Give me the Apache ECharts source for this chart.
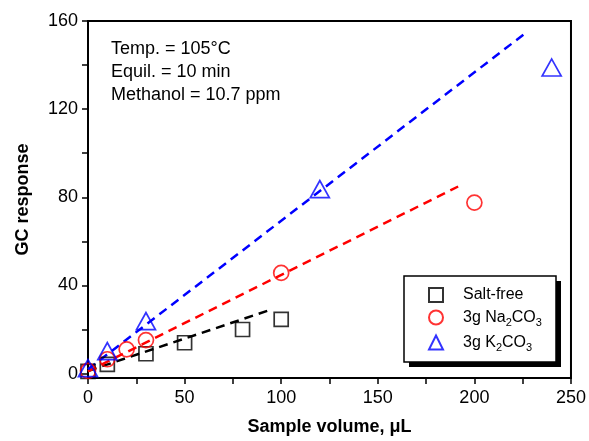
<!DOCTYPE html>
<html>
<head>
<meta charset="utf-8">
<script src="https://cdn.jsdelivr.net/npm/echarts@6/dist/echarts.min.js"></script>
<style>
  html, body { margin: 0; padding: 0; background: #fff; }
  #chart { width: 589px; height: 441px; }
</style>
</head>
<body>
<div id="chart"></div>
<script>
// data
const saltFree = [[0, 1], [10, 4.2], [30, 9], [50, 14], [80, 20], [100, 24.6]];
const na2co3 = [[0, 1.2], [10, 6.5], [20, 11], [30, 15.2], [100, 45.7], [200, 77.6]];
const k2co3 = [[0, 2.5], [10, 10.2], [30, 23.8], [120, 83.7], [240, 138.9]];

// dashed fit lines (end points)
const fitSaltFree = [[0, 1.2], [95, 29.1]];
const fitNa = [[0, 1], [191.6, 84.9]];
const fitK = [[0, 2], [225.7, 154]];

const xLabels = [0, 50, 100, 150, 200, 250];
const xTicks = [0, 25, 50, 75, 100, 125, 150, 175, 200, 225, 250];
const yLabels = [0, 40, 80, 120, 160];
const yTicks = [0, 20, 40, 60, 80, 100, 120, 140, 160];

const FONT = "Liberation Sans, Arial, sans-serif";

const chart = echarts.init(document.getElementById("chart"));

function scatter(name, data, symbol, size, color) {
  return {
    name: name,
    type: "scatter",
    data: data,
    symbol: symbol,
    symbolSize: size,
    clip: false,
    z: 5,
    itemStyle: { color: "transparent", borderColor: color, borderWidth: 1.7 }
  };
}

function fit(data, color) {
  return {
    type: "line",
    data: data,
    symbol: "none",
    silent: true,
    z: 3,
    lineStyle: { color: color, width: 2.5, type: [9, 6] }
  };
}

chart.setOption({
  animation: false,
  backgroundColor: "#fff",
  grid: {
    left: 88, right: 18, top: 21, bottom: 62,
    show: true, borderColor: "#000", borderWidth: 2
  },
  xAxis: {
    type: "value",
    min: 0, max: 250,
    name: "Sample volume, μL",
    nameLocation: "middle",
    nameGap: 40,
    nameTextStyle: { fontFamily: FONT, fontSize: 18, fontWeight: "bold", color: "#000" },
    axisLine: { show: true, onZero: false, lineStyle: { color: "#000", width: 2 } },
    axisTick: { show: true, inside: false, length: 6, lineStyle: { color: "#000", width: 1.5 }, customValues: xTicks },
    axisLabel: { fontFamily: FONT, fontSize: 18, color: "#000", margin: 11, customValues: xLabels },
    splitLine: { show: false }
  },
  yAxis: {
    type: "value",
    min: -2, max: 160,
    name: "GC response",
    nameLocation: "middle",
    nameGap: 56,
    nameTextStyle: { fontFamily: FONT, fontSize: 18, fontWeight: "bold", color: "#000" },
    axisLine: { show: true, onZero: false, lineStyle: { color: "#000", width: 2 } },
    axisTick: { show: true, inside: false, length: 6, lineStyle: { color: "#000", width: 1.5 }, customValues: yTicks },
    axisLabel: { fontFamily: FONT, fontSize: 18, color: "#000", margin: 10, customValues: yLabels },
    splitLine: { show: false }
  },
  legend: {
    orient: "vertical",
    left: 428,
    top: 287,
    padding: 0,
    itemGap: 4,
    itemWidth: 14,
    itemHeight: 14,
    z: 10,
    data: ["Salt-free", "3g Na2CO3", "3g K2CO3"],
    formatter: function (name) {
      if (name === "3g Na2CO3") return "{n|3g Na}{s|2}{n|CO}{s|3}";
      if (name === "3g K2CO3") return "{n|3g K}{s|2}{n|CO}{s|3}";
      return "{n|" + name + "}";
    },
    textStyle: {
      padding: [0, 0, 0, 15],
      rich: {
        n: { fontFamily: FONT, fontSize: 16, color: "#000", lineHeight: 20 },
        s: { fontFamily: FONT, fontSize: 11, color: "#000", lineHeight: 12, padding: [10, 0, 0, 0] }
      }
    }
  },
  graphic: [
    { type: "rect", z: 1, shape: { x: 409, y: 281, width: 152, height: 86 }, style: { fill: "#000" } },
    { type: "rect", z: 2, shape: { x: 404, y: 276, width: 152, height: 86 }, style: { fill: "#fff", stroke: "#000", lineWidth: 1.5 } },
    {
      type: "text", left: 111, top: 38, z: 10,
      style: {
        text: "Temp. = 105°C\nEquil. = 10 min\nMethanol = 10.7 ppm",
        font: "18px " + FONT,
        fill: "#000",
        lineHeight: 23
      }
    }
  ],
  series: [
    fit(fitSaltFree, "#000"),
    fit(fitNa, "#ff0000"),
    fit(fitK, "#0000ff"),
    scatter("Salt-free", saltFree, "rect", 14, "#000"),
    scatter("3g Na2CO3", na2co3, "circle", 15, "#ff0000"),
    scatter("3g K2CO3", k2co3, "triangle", [19, 17], "#0000ff")
  ]
});
</script>
</body>
</html>
